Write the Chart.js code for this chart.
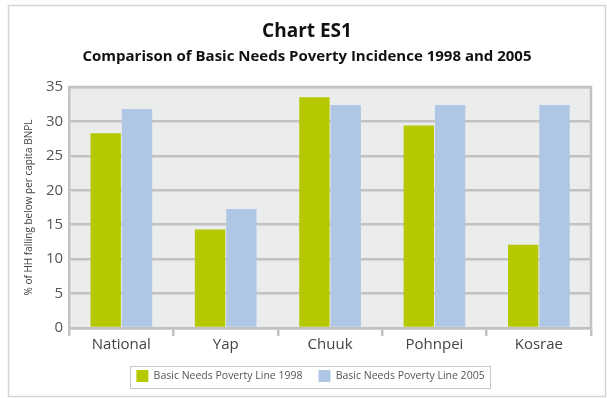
<!DOCTYPE html>
<html>
<head>
<meta charset="utf-8">
<script src="https://cdn.jsdelivr.net/npm/chart.js@4"></script>
<style>
  html, body { margin: 0; padding: 0; background: #fff; }
  #wrap { position: relative; width: 607px; height: 398px; }
</style>
</head>
<body>
<div id="wrap"><canvas id="c" width="607" height="398"></canvas></div>
<script>
// --- Data ---
const categories = ['National', 'Yap', 'Chuuk', 'Pohnpei', 'Kosrae'];
const line1998 = [28.3, 14.3, 33.5, 29.4, 12.1];
const line2005 = [31.8, 17.3, 32.4, 32.4, 32.4];
const seriesNames = ['Basic Needs Poverty Line 1998', 'Basic Needs Poverty Line 2005'];
const titleText = 'Chart ES1';
const subtitleText = 'Comparison of Basic Needs Poverty Incidence 1998 and 2005';

const FONT = "'Open Sans', 'Noto Sans', sans-serif";

// frame, plot background, titles, plot border, legend box
const decor = {
    id: 'decor',
    afterLayout(chart) {
        // legend sits a little right of centre in the original
        chart.legend.left += 6;
        chart.legend.right += 6;
    },
    beforeDraw(chart) {
        const ctx = chart.ctx;
        const a = chart.chartArea;
        ctx.save();
        ctx.strokeStyle = '#d4d4d4';
        ctx.lineWidth = 1.5;
        ctx.strokeRect(8.5, 5.5, 597, 391);
        ctx.fillStyle = '#ebedec';
        ctx.fillRect(a.left, a.top, a.right - a.left, a.bottom - a.top);

        ctx.fillStyle = '#111';
        ctx.textAlign = 'center';
        ctx.textBaseline = 'middle';
        ctx.font = 'bold 19px ' + FONT;
        ctx.fillText(titleText, 307, 32);
        ctx.font = 'bold 15px ' + FONT;
        ctx.fillText(subtitleText, 307, 57);
        ctx.restore();
    },
    afterDraw(chart) {
        const ctx = chart.ctx;
        const a = chart.chartArea;
        ctx.save();
        ctx.strokeStyle = '#c2c2c2';
        ctx.lineWidth = 2.5;
        ctx.beginPath();
        ctx.moveTo(a.left, a.top);
        ctx.lineTo(a.right, a.top);
        ctx.lineTo(a.right, a.bottom);
        ctx.stroke();
        ctx.strokeStyle = '#c8c8c8';
        ctx.lineWidth = 1;
        ctx.strokeRect(130.5, 366.5, 360, 22);
        ctx.restore();
    }
};

new Chart(document.getElementById('c'), {
    type: 'bar',
    data: {
        labels: categories,
        datasets: [
            { label: seriesNames[0], data: line1998, backgroundColor: '#b5c800' },
            { label: seriesNames[1], data: line2005, backgroundColor: '#afc6e4' }
        ]
    },
    options: {
        responsive: false,
        animation: false,
        layout: { padding: { left: 18, right: 16, top: 87, bottom: 6 } },
        datasets: { bar: { categoryPercentage: 0.6, barPercentage: 0.97 } },
        plugins: {
            title: { display: false },
            legend: {
                position: 'bottom',
                labels: {
                    color: '#555',
                    font: { family: FONT, size: 10.5 },
                    boxWidth: 12,
                    boxHeight: 12,
                    padding: 16
                }
            },
            tooltip: { enabled: false }
        },
        scales: {
            x: {
                grid: {
                    offset: true,
                    drawOnChartArea: false,
                    color: '#c2c2c2',
                    lineWidth: 2.5,
                    tickLength: 8
                },
                border: { color: '#c2c2c2', width: 2.5 },
                ticks: { color: '#444', font: { family: FONT, size: 15 }, padding: 0 }
            },
            y: {
                min: 0,
                max: 35,
                ticks: { stepSize: 5, color: '#555', font: { family: FONT, size: 15 }, padding: 6 },
                grid: { color: '#c2c2c2', lineWidth: 2.5, drawTicks: false },
                border: { color: '#c2c2c2', width: 2.5 },
                title: {
                    display: true,
                    text: '% of HH falling below per capita BNPL',
                    color: '#444',
                    font: { family: FONT, size: 10 },
                    padding: 5
                }
            }
        }
    },
    plugins: [decor]
});
</script>
</body>
</html>
